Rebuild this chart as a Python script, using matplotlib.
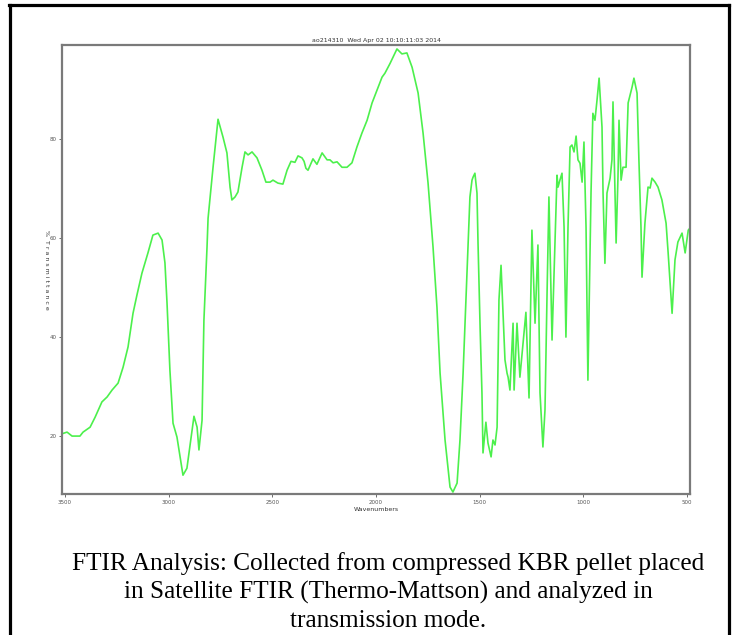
import matplotlib
matplotlib.use("Agg")
import matplotlib.pyplot as plt
from matplotlib.lines import Line2D

title_text = "ao214310  Wed Apr 02 10:10:11:03 2014"
x_label = "Wavenumbers"
y_label = "%  T r a n s m i t t a n c e"
caption = ("FTIR Analysis: Collected from compressed KBR pellet placed\n"
           "in Satellite FTIR (Thermo-Mattson) and analyzed in\n"
           "transmission mode.")
x_ticks = [3500, 3000, 2500, 2000, 1500, 1000, 500]
y_ticks = [20, 40, 60, 80]

# 10 values per row
wavenumber = [
    3512, 3490, 3466, 3428, 3413, 3379, 3355, 3322, 3297, 3273,
    3244, 3220, 3196, 3172, 3153, 3129, 3100, 3076, 3051, 3032,
    3018, 3008, 2994, 2979, 2960, 2945, 2931, 2912, 2887, 2878,
    2863, 2854, 2839, 2830, 2815, 2810, 2786, 2762, 2738, 2719,
    2704, 2695, 2680, 2666, 2646, 2632, 2617, 2598, 2574, 2550,
    2531, 2511, 2497, 2473, 2449, 2429, 2410, 2391, 2376, 2357,
    2347, 2338, 2328, 2304, 2285, 2260, 2236, 2222, 2207, 2188,
    2164, 2140, 2116, 2092, 2068, 2043, 2019, 1971, 1957, 1932,
    1899, 1875, 1851, 1826, 1797, 1773, 1749, 1725, 1706, 1691,
    1667, 1643, 1629, 1609, 1595, 1580, 1561, 1547, 1537, 1532,
    1523, 1513, 1508, 1498, 1489, 1484, 1470, 1460, 1445, 1436,
    1426, 1416, 1407, 1397, 1388, 1378, 1368, 1363, 1354, 1339,
    1334, 1320, 1306, 1277, 1262, 1248, 1233, 1219, 1209, 1195,
    1185, 1175, 1166, 1151, 1127, 1122, 1113, 1103, 1093, 1084,
    1074, 1064, 1055, 1045, 1035, 1026, 1016, 1006, 997, 987,
    978, 963, 954, 944, 934, 924, 910, 905, 896, 886,
    871, 862, 857, 847, 842, 833, 828, 818, 809, 794,
    784, 765, 756, 741, 732, 722, 717, 703, 688, 678,
    669, 654, 640, 621, 601, 591, 572, 558, 544, 524,
    509, 494, 486]
transmittance = [
    20.5, 20.8, 20.0, 20.0, 20.8, 21.8, 23.8, 26.9, 27.9, 29.3,
    30.7, 33.9, 38.0, 44.8, 48.5, 52.9, 57.0, 60.6, 61.0, 59.6,
    55.0, 46.9, 33.3, 22.6, 19.8, 15.8, 12.1, 13.5, 21.2, 24.0,
    21.8, 17.2, 23.2, 43.4, 58.2, 64.0, 74.3, 84.0, 80.4, 77.2,
    70.3, 67.7, 68.3, 69.3, 74.3, 77.4, 76.8, 77.4, 76.2, 73.7,
    71.3, 71.3, 71.7, 71.1, 70.9, 73.7, 75.5, 75.3, 76.6, 76.2,
    75.5, 74.1, 73.7, 76.0, 74.9, 77.2, 75.8, 75.8, 75.2, 75.4,
    74.3, 74.3, 75.2, 78.4, 81.2, 83.8, 87.3, 92.5, 93.3, 95.3,
    98.2, 97.2, 97.4, 94.5, 89.3, 81.2, 71.1, 58.2, 46.0, 32.7,
    19.2, 9.7, 8.7, 10.5, 19.2, 32.7, 52.9, 68.3, 71.7, 72.3,
    73.1, 69.1, 59.0, 42.0, 28.7, 16.6, 22.8, 18.6, 15.8, 19.2,
    18.2, 21.8, 47.5, 54.5, 45.4, 35.4, 32.7, 31.9, 29.3, 42.8,
    29.3, 42.8, 31.9, 45.0, 27.7, 61.6, 42.8, 58.6, 28.7, 17.8,
    25.3, 48.9, 68.3, 39.4, 72.7, 70.3, 71.7, 73.1, 62.2, 40.0,
    62.2, 78.4, 78.8, 77.4, 80.6, 75.8, 75.1, 71.3, 79.4, 62.2,
    31.3, 69.1, 85.2, 83.8, 87.9, 92.3, 82.4, 69.1, 54.9, 69.1,
    72.1, 75.8, 87.5, 69.1, 59.0, 72.3, 83.8, 71.7, 74.3, 74.3,
    87.3, 90.5, 92.3, 89.3, 75.8, 62.2, 52.1, 63.0, 70.3, 70.1,
    72.1, 71.3, 70.3, 67.7, 63.0, 57.0, 44.8, 55.6, 59.2, 61.0,
    57.0, 61.6, 62.0]

W, H = 733, 635
fig = plt.figure(figsize=(W / 100, H / 100), dpi=100)

# outer border (top, left, right)
for xs, ys in [((9 / W, 729 / W), (1 - 5 / H, 1 - 5 / H)),
               ((9.5 / W, 9.5 / W), (1 - 5 / H, 0.0)),
               ((729 / W, 729 / W), (1 - 5 / H, 0.0))]:
    fig.add_artist(Line2D(xs, ys, color="black", linewidth=2.3, transform=fig.transFigure))

ax = fig.add_axes([62 / W, 1 - 494 / H, (690 - 62) / W, (494 - 45) / H])
ax.plot(wavenumber, transmittance, color="#4cf04c", linewidth=1.2)
ax.set_xlim(3514.5, 485.6)
ax.set_ylim(8.3, 99.0)
ax.set_xticks(x_ticks)
ax.set_yticks(y_ticks)
ax.tick_params(labelsize=4, colors="#555555", length=2, width=0.6, pad=2)
for s in ax.spines.values():
    s.set_color("#7a7a7a")
    s.set_linewidth(1.6)
ax.set_title(title_text, fontsize=4.5, color="#333333", pad=2)
ax.set_xlabel(x_label, fontsize=4.5, color="#333333", labelpad=2)
ax.set_ylabel(y_label, fontsize=4.5, color="#333333", rotation=270,
              ha="center", va="center")
ax.yaxis.set_label_coords(-0.024, 0.50)

fig.text(388 / W, 1 - 592 / H, caption, ha="center", va="center",
         fontsize=18.2, family="Liberation Serif", linespacing=1.36)

fig.savefig("out.png", dpi=100)
